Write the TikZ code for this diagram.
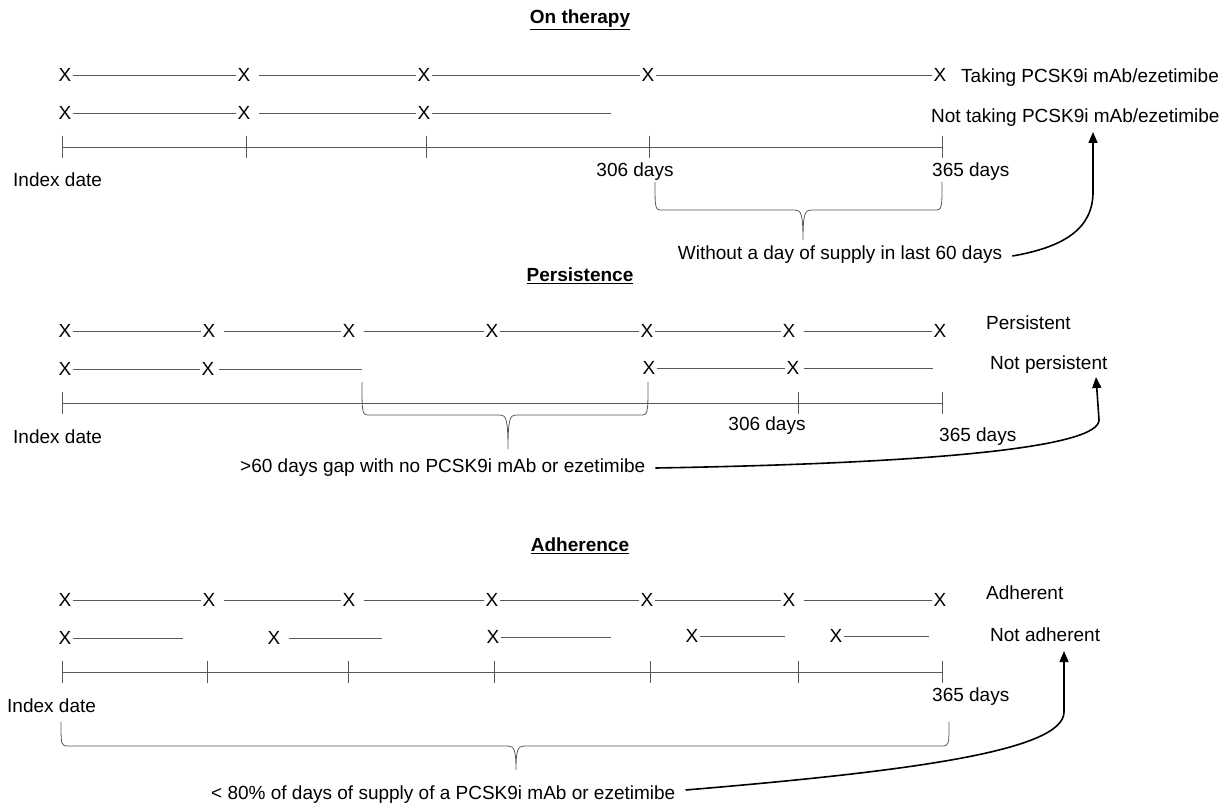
\documentclass[tikz,border=0pt]{standalone}
\usepackage{fontspec}
\setmainfont{Liberation Sans}
\usetikzlibrary{arrows.meta}
\newcommand{\mybrace}[6]{%
  \draw[tl] (#1,#4) .. controls (#1,#5) and (#1,#5) .. (#1+8,#5) -- (#3-8,#5)
    .. controls (#3-2,#5) and (#3,#5+4) .. (#3,#6)
    .. controls (#3,#5+4) and (#3+2,#5) .. (#3+8,#5) -- (#2-8,#5)
    .. controls (#2,#5) and (#2,#5) .. (#2,#4);}
\begin{document}
\begin{tikzpicture}[x=1pt,y=-1pt,
  txt/.style={inner sep=0pt, font=\fontsize{19}{22}\selectfont},
  xm/.style={inner sep=1pt, font=\fontsize{19}{22}\selectfont},
  ttl/.style={inner sep=0pt, font=\fontsize{19}{22}\selectfont\bfseries},
  tl/.style={line width=0.8pt, draw=black!65},
  gap/.style={shorten <=7pt},
  tick/.style={line width=0.8pt, draw=black!65},
  arr/.style={line width=1.6pt, draw=black, -{Triangle[length=11pt,width=9pt]}},
]
\useasboundingbox (0,0) rectangle (1222,805);

% ---------------- On therapy ----------------
\node[ttl] (t1) at (580,20) {\underline{On therapy}};
\node[xm] (a1) at (65,75) {X};
\node[xm] (a2) at (244,75) {X};
\node[xm] (a3) at (424,75) {X};
\node[xm] (a4) at (648,75) {X};
\node[xm] (a5) at (940,75) {X};
\draw[tl] (a1) -- (a2);
\draw[tl,gap] (a2) -- (a3);
\draw[tl] (a3) -- (a4);
\draw[tl] (a4) -- (a5);
\node[xm] (b1) at (65,113) {X};
\node[xm] (b2) at (244,113) {X};
\node[xm] (b3) at (424,113) {X};
\coordinate (b4) at (611,113);
\draw[tl] (b1) -- (b2);
\draw[tl,gap] (b2) -- (b3);
\draw[tl] (b3) -- (b4);
\coordinate (ax1s) at (62,147);
\coordinate (ax1e) at (942,147);
\draw[tl] (ax1s) -- (ax1e);
\foreach \x in {62,246,426,649,942} \draw[tick] (\x,136) -- (\x,158);
\node[txt,anchor=west] (idx1) at (13,180) {Index date};
\node[txt] (d306a) at (635,172) {306 days};
\node[txt,anchor=west] (d365a) at (932,172) {365 days};
\node[txt,anchor=west] (take) at (961,78) {Taking PCSK9i mAb/ezetimibe};
\node[txt,anchor=west] (ntake) at (931,118) {Not taking PCSK9i mAb/ezetimibe};
\mybrace{655}{942}{803}{182}{210}{240}
\node[txt] (br1) at (840,255) {Without a day of supply in last 60 days};
\coordinate (tip1) at (1093,132);
\draw[arr] ([xshift=10pt,yshift=-1pt]br1.east) .. controls (1065,247) and (1093,228) .. (1093,192) -- (tip1);

% ---------------- Persistence ----------------
\node[ttl] (t2) at (580,276) {\underline{Persistence}};
\node[xm] (c1) at (65,331) {X};
\node[xm] (c2) at (209,331) {X};
\node[xm] (c3) at (349,331) {X};
\node[xm] (c4) at (492,331) {X};
\node[xm] (c5) at (647,331) {X};
\node[xm] (c6) at (789,331) {X};
\node[xm] (c7) at (940,331) {X};
\draw[tl] (c1) -- (c2);
\draw[tl,gap] (c2) -- (c3);
\draw[tl,gap] (c3) -- (c4);
\draw[tl] (c4) -- (c5);
\draw[tl] (c5) -- (c6);
\draw[tl,gap] (c6) -- (c7);
\node[xm] (d1) at (65,369) {X};
\node[xm] (d2) at (208,369) {X};
\coordinate (d3) at (362,369);
\node[xm] (d4) at (649,368) {X};
\node[xm] (d5) at (793,368) {X};
\coordinate (d6) at (933,368);
\draw[tl] (d1) -- (d2);
\draw[tl,shorten <=3pt] (d2) -- (d3);
\draw[tl] (d4) -- (d5);
\draw[tl,shorten <=3pt] (d5) -- (d6);
\coordinate (ax2s) at (62,403);
\coordinate (ax2e) at (942,403);
\draw[tl] (ax2s) -- (ax2e);
\foreach \x in {62,798,942} \draw[tick] (\x,392) -- (\x,414);
\node[txt,anchor=west] (idx2) at (13,437) {Index date};
\node[txt] (d306b) at (767,426) {306 days};
\node[txt,anchor=west] (d365b) at (939,437) {365 days};
\node[txt,anchor=west] (pers) at (986,323) {Persistent};
\node[txt,anchor=west] (npers) at (990,365) {Not persistent};
\mybrace{362}{648}{508}{382}{415}{449}
\node[txt,anchor=west] (br2) at (240,468) {>60 days gap with no PCSK9i mAb or ezetimibe};
\coordinate (tip2) at (1096,377);
\draw[arr] ([xshift=10pt]br2.east) .. controls (950,463) and (1099,446) .. (1099,420) -- (tip2);

% ---------------- Adherence ----------------
\node[ttl] (t3) at (580,546) {\underline{Adherence}};
\node[xm] (e1) at (65,600) {X};
\node[xm] (e2) at (209,600) {X};
\node[xm] (e3) at (349,600) {X};
\node[xm] (e4) at (492,600) {X};
\node[xm] (e5) at (647,600) {X};
\node[xm] (e6) at (789,600) {X};
\node[xm] (e7) at (940,600) {X};
\draw[tl] (e1) -- (e2);
\draw[tl,gap] (e2) -- (e3);
\draw[tl,gap] (e3) -- (e4);
\draw[tl] (e4) -- (e5);
\draw[tl] (e5) -- (e6);
\draw[tl,gap] (e6) -- (e7);
\node[xm] (f1) at (65,638) {X};
\coordinate (f1e) at (183,638);
\node[xm] (f2) at (274,638) {X};
\coordinate (f2e) at (382,638);
\node[xm] (f3) at (493,637) {X};
\coordinate (f3e) at (611,637);
\node[xm] (f4) at (692,636) {X};
\coordinate (f4e) at (785,636);
\node[xm] (f5) at (836,636) {X};
\coordinate (f5e) at (929,636);
\draw[tl] (f1) -- (f1e);
\draw[tl,gap] (f2) -- (f2e);
\draw[tl] (f3) -- (f3e);
\draw[tl] (f4) -- (f4e);
\draw[tl] (f5) -- (f5e);
\coordinate (ax3s) at (62,672);
\coordinate (ax3e) at (942,672);
\draw[tl] (ax3s) -- (ax3e);
\foreach \x in {62,207,348,494,650,798,942} \draw[tick] (\x,661) -- (\x,683);
\node[txt,anchor=west] (idx3) at (7,706) {Index date};
\node[txt,anchor=west] (d365c) at (932,697) {365 days};
\node[txt,anchor=west] (adh) at (986,593) {Adherent};
\node[txt,anchor=west] (nadh) at (990,635) {Not adherent};
\mybrace{61}{949}{516}{722}{746}{770}
\node[txt,anchor=west] (br3) at (211,795) {< 80\% of days of supply of a PCSK9i mAb or ezetimibe};
\coordinate (tip3) at (1064,651);
\draw[arr] ([xshift=10pt,yshift=5pt]br3.east) .. controls (900,772) and (1064,752) .. (1064,712) -- (tip3);
\end{tikzpicture}
\end{document}
